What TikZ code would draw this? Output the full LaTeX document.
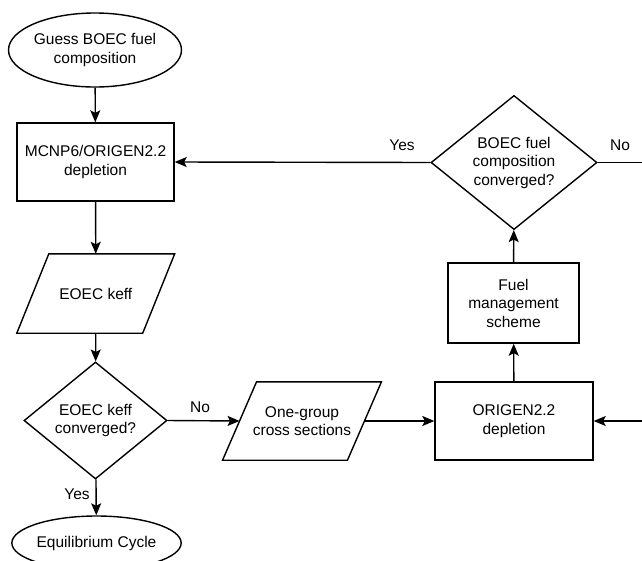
\documentclass[tikz,border=0pt]{standalone}
\usepackage{fontspec}
\setmainfont{Liberation Sans}
\usetikzlibrary{shapes.geometric,arrows.meta}
\begin{document}
\begin{tikzpicture}[x=1pt,y=-1pt,
  every node/.style={font=\fontsize{15.5}{18.5}\selectfont, text=black, align=center},
  conn/.style={line width=1.4pt, draw=black},
  arr/.style={conn, -{Stealth[length=12pt,width=10pt,inset=2.5pt]}},
  term/.style={ellipse, draw, line width=1.4pt, inner sep=0pt},
  procbox/.style={rectangle, draw, line width=1.4pt, inner sep=0pt},
  decis/.style={diamond, draw, line width=1.4pt, inner sep=0pt},
  iobox/.style={rectangle, draw=none, inner sep=0pt},
  lbl/.style={font=\fontsize{15.5}{18.5}\selectfont}
]
\useasboundingbox (0,0) rectangle (642,560);
\clip (0,0) rectangle (642,560);
% nodes
\node[term, minimum width=172pt, minimum height=74pt] (guess) at (95,50) {Guess BOEC fuel\\composition};
\node[procbox, minimum width=157pt, minimum height=78pt] (mcnp) at (95.5,162) {MCNP6/ORIGEN2.2\\depletion};
\node[iobox, minimum width=125.5pt, minimum height=79pt] (eoec) at (95.75,293.5) {EOEC keff};
\draw[line width=1.4pt] ([xshift=-16pt]eoec.south west) -- ([xshift=16pt]eoec.north west) -- ([xshift=16pt]eoec.north east) -- ([xshift=-16pt]eoec.south east) -- cycle;
\node[decis, minimum width=143pt, minimum height=117pt] (keffconv) at (95.5,420.5) {EOEC keff\\converged?};
\node[term, minimum width=161pt, minimum height=54pt] (equil) at (96.5,543) {Equilibrium Cycle};
\node[iobox, minimum width=124.5pt, minimum height=78pt] (onegroup) at (302,421) {One-group\\cross sections};
\draw[line width=1.4pt] ([xshift=-17pt]onegroup.south west) -- ([xshift=17pt]onegroup.north west) -- ([xshift=17pt]onegroup.north east) -- ([xshift=-17pt]onegroup.south east) -- cycle;
\node[procbox, minimum width=158pt, minimum height=78pt] (origen) at (514,421) {ORIGEN2.2\\depletion};
\node[procbox, minimum width=131pt, minimum height=80pt] (fuel) at (513.5,303) {Fuel\\management\\scheme};
\node[decis, minimum width=166pt, minimum height=125pt] (boec) at (514,162.5) {BOEC fuel\\composition\\converged?};
\coordinate (edgeA) at (642,162.5);
\coordinate (edgeB) at (642,421);
% connectors
\draw[arr] (guess) -- (mcnp);
\draw[arr] (mcnp) -- (eoec.north);
\draw[arr] (eoec.south) -- (keffconv);
\draw[arr] (keffconv) -- (equil);
\draw[arr] (keffconv.east) -- (onegroup.west);
\draw[arr] (onegroup.east) -- (origen.west);
\draw[arr] (edgeB) -- (origen.east);
\draw[arr] (origen) -- (fuel);
\draw[arr] (fuel) -- (boec);
\draw[arr] (boec.west) -- (mcnp.east);
\draw[conn] (boec.east) -- (edgeA);
% labels
\node[lbl] (lyes1) at (402,145) {Yes};
\node[lbl] (lno1) at (620,145) {No};
\node[lbl] (lno2) at (200,407) {No};
\node[lbl] (lyes2) at (77,494) {Yes};
\end{tikzpicture}
\end{document}
